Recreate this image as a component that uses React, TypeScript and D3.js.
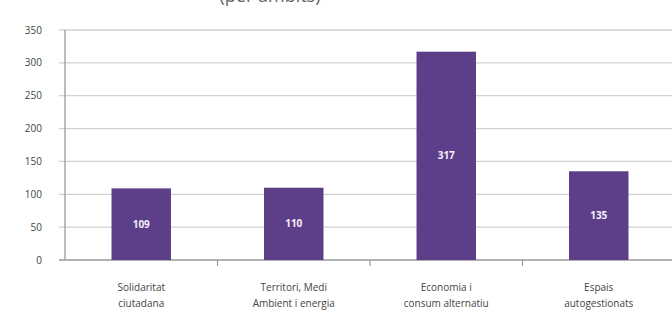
import React from 'react';
import { scaleBand, scaleLinear } from 'd3';

const categories = [
  ['Solidaritat', 'ciutadana'],
  ['Territori, Medi', 'Ambient i energia'],
  ['Economia i', 'consum alternatiu'],
  ['Espais', 'autogestionats'],
];
const values = [109, 110, 317, 135];
const yTicks = [0, 50, 100, 150, 200, 250, 300, 350];
const title = '(per àmbits)';

const width = 672;
const height = 318;
const margin = { top: 30, right: -3, bottom: 58, left: 65 };

export default function App() {
  const innerW = width - margin.left - margin.right;
  const innerH = height - margin.top - margin.bottom;

  const x = scaleBand<number>()
    .domain(values.map((_, i) => i))
    .range([0, innerW])
    .paddingInner(0.61)
    .paddingOuter(0.305);

  const band = innerW / values.length;

  const y = scaleLinear().domain([0, 350]).range([innerH, 0]);

  const font = '"Open Sans", "Liberation Sans", Arial, sans-serif';

  return (
    <svg
      width={width}
      height={height}
      style={{ position: 'absolute', left: 0, top: 0, background: '#fff' }}
      fontFamily={font}
    >
      <text x={270} y={2} textAnchor="middle" fontSize={18} fill="#666">{title}</text>
      <g transform={`translate(${margin.left},${margin.top})`}>
        {yTicks.map(t => (
          <g key={t} transform={`translate(0,${y(t)})`}>
            <line x1={-6} x2={innerW + 10} stroke={t === 0 ? '#999' : '#d2d2d2'} strokeWidth={1.3} />
            <text x={-23} dy="0.35em" textAnchor="end" fontSize={10} fill="#444">{t}</text>
          </g>
        ))}
        <line x1={0} x2={0} y1={0} y2={innerH} stroke="#999" strokeWidth={1.3} />
        {values.map((_, i) => (
          <line key={i} x1={band * (i + 1)} x2={band * (i + 1)} y1={innerH} y2={innerH + 6} stroke="#999" strokeWidth={1.2} />
        ))}
        {values.map((v, i) => (
          <g key={i}>
            <rect x={x(i)} y={y(v)} width={x.bandwidth()} height={innerH - y(v)} fill="#5c3f88" />
            <text
              x={(x(i) as number) + x.bandwidth() / 2}
              y={(y(v) + innerH) / 2}
              dy="0.35em"
              textAnchor="middle"
              fontSize={10}
              fontWeight="bold"
              fill="#f4f0fa"
            >
              {v}
            </text>
          </g>
        ))}
        {categories.map((lines, i) => (
          <text
            key={i}
            x={band * i + band / 2}
            y={innerH + 31}
            textAnchor="middle"
            fontSize={10}
            fill="#444"
          >
            {lines.map((l, j) => (
              <tspan key={j} x={band * i + band / 2} dy={j === 0 ? 0 : 16}>{l}</tspan>
            ))}
          </text>
        ))}
      </g>
    </svg>
  );
}
